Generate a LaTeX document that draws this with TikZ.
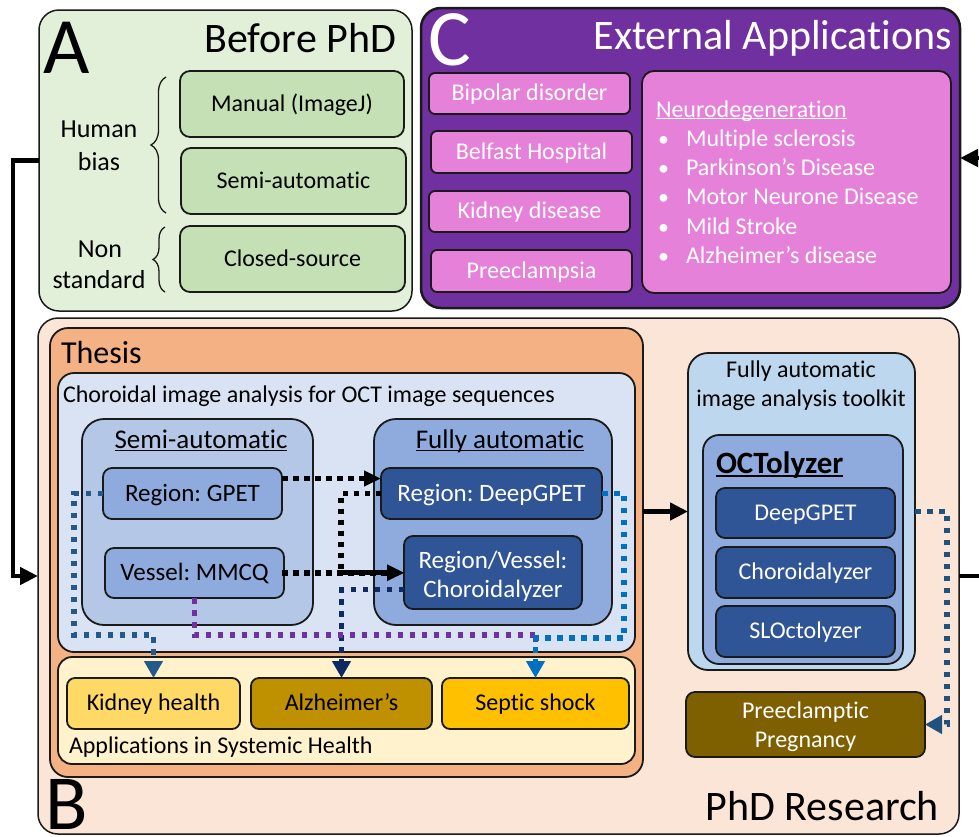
\documentclass[tikz,border=0pt]{standalone}
\usepackage{fontspec}
\setmainfont{Carlito}[Ligatures=NoCommon]
\frenchspacing
\usetikzlibrary{arrows.meta,decorations.pathreplacing}
\definecolor{agreen}{HTML}{E2F0D9}
\definecolor{agitem}{HTML}{C5E0B4}
\definecolor{cpurple}{HTML}{7030A0}
\definecolor{cpink}{HTML}{E581D9}
\definecolor{borange}{HTML}{FBE5D6}
\definecolor{thesisc}{HTML}{F4B183}
\definecolor{chorc}{HTML}{DAE3F3}
\definecolor{semic}{HTML}{B4C7E7}
\definecolor{fullc}{HTML}{8FAADC}
\definecolor{darkb}{HTML}{2F5597}
\definecolor{toolc}{HTML}{BDD7EE}
\definecolor{appc}{HTML}{FFF2CC}
\definecolor{kidc}{HTML}{FFD966}
\definecolor{alzc}{HTML}{BF9000}
\definecolor{sepc}{HTML}{FFC000}
\definecolor{pregc}{HTML}{7F6000}
\definecolor{edge}{HTML}{1A1A1A}
\definecolor{kidarr}{HTML}{24598A}
\definecolor{navyarr}{HTML}{0F2A62}
\definecolor{separr}{HTML}{0070C0}
\definecolor{pregarr}{HTML}{1F527F}
\definecolor{purparr}{HTML}{7030A0}
\newcommand\fsz[2]{\fontsize{#1}{#2}\selectfont}
\newlength\ulwd
\newcommand\ulx[3]{\settowidth\ulwd{#3}\rlap{\rule[-#1]{\ulwd}{#2}}#3}
\newcommand\bx[7]{\node[#6, minimum width={(#4-#2)*1pt}, minimum height={(#5-#3)*1pt}] (#1) at ({(#2+#4)/2},{(#3+#5)/2}) {#7};}
\begin{document}
\begin{tikzpicture}[x=1pt, y=-1pt,
  box/.style={draw=edge, line width=1.8pt, outer sep=0pt, inner sep=0pt, align=center},
  strutted/.style={execute at begin node={\rule[-0.26em]{0pt}{1.14em}}},
  outerbox/.style={box, line width=1.5pt, rounded corners=20pt},
  agbox/.style={box, strutted, fill=agitem, rounded corners=10pt, font=\fsz{24}{29}},
  cbox/.style={box, strutted, fill=cpink, rounded corners=6pt, text=white, font=\fsz{24}{29}},
  lbox/.style={box, strutted, fill=fullc, rounded corners=9pt, font=\fsz{25}{29}},
  dbox/.style={box, strutted, fill=darkb, rounded corners=9pt, text=white, font=\fsz{25}{29}},
  tbox/.style={box, strutted, fill=darkb, rounded corners=9pt, text=white, font=\fsz{24}{29}},
  ybox/.style={box, strutted, rounded corners=8pt, font=\fsz{24}{29}},
  txt/.style={inner sep=0pt, outer sep=0pt},
  blk/.style={draw=black, line width=4.5pt, -{Triangle[length=18pt,width=17pt]}},
  blkdot/.style={draw=black, line width=5.5pt, dash pattern=on 5.5pt off 5.5pt, -{Triangle[length=17pt,width=15pt]}},
  cdot/.style={line width=5.5pt, dash pattern=on 5.5pt off 6.5pt},
  carr/.style={cdot, -{Triangle[length=17pt,width=18pt]}},
  bracestyle/.style={draw=edge, line width=1.3pt, decorate}
]
\useasboundingbox (0,0) rectangle (979,836);
\fill[white] (0,0) rectangle (979,836);

% ---------------- A ----------------
\bx{A}{39}{10}{412}{311}{outerbox, fill=agreen}{}
\node[txt, anchor=base west, font=\fsz{80}{80}] (Alab) at (43,73) {A};
\node[txt, anchor=base east, font=\fsz{42}{42}] (Atitle) at (396,52) {Before PhD};
\bx{man}{180}{71}{404}{137}{agbox}{Manual (ImageJ)}
\bx{semiA}{181}{148}{406}{214}{agbox}{Semi-automatic}
\bx{closed}{180}{226}{405}{292}{agbox}{Closed-source}
\node[txt, anchor=base, font=\fsz{26}{33}] (hb1) at (99,137) {Human};
\node[txt, anchor=base, font=\fsz{26}{33}] (hb2) at (99,170) {bias};
\node[txt, anchor=base, font=\fsz{26}{33}] (ns1) at (100,257) {Non};
\node[txt, anchor=base, font=\fsz{26}{33}] (ns2) at (99,288) {standard};
\draw[bracestyle, decoration={brace, amplitude=15pt}] (166,213) -- (166,77);
\draw[bracestyle, decoration={brace, amplitude=12pt}] (165,292) -- (165,227);

% ---------------- C ----------------
\bx{C}{421}{8}{960}{308}{outerbox, line width=2.5pt, fill=cpurple}{}
\node[txt, anchor=base west, text=white, font=\fsz{80}{80}] (Clab) at (428,65) {C};
\node[txt, anchor=base east, text=white, font=\fsz{42}{42}] (Ctitle) at (952,49) {External Applications};
\bx{bip}{429}{73}{630}{114}{cbox}{Bipolar disorder}
\bx{bel}{431}{131}{632}{173}{cbox}{Belfast Hospital}
\bx{kdis}{429}{191}{630}{232}{cbox}{Kidney disease}
\bx{pre}{431}{250}{632}{292}{cbox}{Preeclampsia}
\bx{neuro}{642}{71}{951}{293}{cbox, rounded corners=12pt}{}
\node[txt, anchor=base west, text=white, font=\fsz{24}{29}] (nt) at (656,117) {\ulx{2.4pt}{1.3pt}{Neurodegeneration}};
\foreach \i/\t/\y in {1/Multiple sclerosis/146, 2/Parkinson’s Disease/175, 3/Motor Neurone Disease/204, 4/Mild Stroke/234, 5/Alzheimer’s disease/263}{
  \node[txt, anchor=base west, text=white, font=\fsz{22}{29}] (nb\i) at (658,\y) {•};
  \node[txt, anchor=base west, text=white, font=\fsz{24}{29}] (ni\i) at (686,\y) {\t};
}

% ---------------- B ----------------
\bx{B}{38}{318}{959}{834}{outerbox, fill=borange}{}
\node[txt, anchor=base west, font=\fsz{78}{78}] (Blab) at (45,829) {B};
\node[txt, anchor=base east, font=\fsz{42}{42}] (Btitle) at (939,820) {PhD Research};

\bx{thesis}{50}{328}{643}{777}{box, fill=thesisc, rounded corners=18pt}{}
\node[txt, anchor=base west, font=\fsz{32}{32}] (thl) at (61,363) {Thesis};
\bx{chor}{58}{373}{635}{652}{box, fill=chorc, rounded corners=16pt}{}
\node[txt, anchor=base west, font=\fsz{24}{29}] (chl) at (63,402) {Choroidal image analysis for OCT image sequences};
\bx{semi}{82}{419}{313}{625}{box, fill=semic, rounded corners=22pt}{}
\node[txt, anchor=base, font=\fsz{27}{29}] (sml) at (201,448) {\ulx{3pt}{1.5pt}{Semi-automatic}};
\bx{full}{374}{419}{612}{625}{box, fill=fullc, rounded corners=22pt}{}
\node[txt, anchor=base, font=\fsz{27}{29}] (fal) at (500,448) {\ulx{3pt}{1.5pt}{Fully automatic}};
\bx{gpet}{103}{468}{282}{519}{lbox}{Region: GPET}
\bx{mmcq}{105}{548}{284}{598}{lbox}{Vessel: MMCQ}
\bx{deep}{381}{468}{602}{519}{dbox}{Region: DeepGPET}
\bx{choz}{404}{536}{582}{609}{dbox}{\rule{0pt}{1.06em}Region/Vessel:\\Choroidalyzer}

\bx{app}{58}{657}{635}{764}{box, fill=appc, rounded corners=14pt}{}
\node[txt, anchor=base west, font=\fsz{24}{29}] (apl) at (69,753) {Applications in Systemic Health};
\bx{kid}{67}{678}{240}{729}{ybox, fill=kidc}{Kidney health}
\bx{alz}{251}{678}{432}{729}{ybox, fill=alzc}{Alzheimer’s}
\bx{sep}{442}{678}{629}{729}{ybox, fill=sepc}{Septic shock}

\bx{tool}{688}{353}{915}{670}{box, fill=toolc, rounded corners=20pt}{}
\node[txt, anchor=base, font=\fsz{24}{29}] (tl1) at (801,377) {Fully automatic};
\node[txt, anchor=base, font=\fsz{24}{29}] (tl2) at (801,406) {image analysis toolkit};
\bx{octo}{703}{435}{903}{664}{box, fill=fullc, rounded corners=16pt}{}
\node[txt, anchor=base west, font=\fsz{31}{31}\bfseries] (ocl) at (716,473) {\ulx{3.5pt}{2pt}{OCTolyzer}};
\bx{deep2}{716}{488}{895}{538}{tbox}{DeepGPET}
\bx{choz2}{716}{547}{895}{598}{tbox}{Choroidalyzer}
\bx{slo}{716}{606}{895}{657}{tbox}{SLOctolyzer}
\bx{preg}{686}{692}{925}{757}{tbox, fill=pregc}{\rule{0pt}{0.93em}Preeclamptic\\Pregnancy}

% ---------------- connectors ----------------
\draw[blk] (A.west) -- ++(-26,0) |- (B.west);
\draw[blk] (B.east) -- ++(35,0) |- (C.east);
\draw[blk] (tool.west -| thesis.east) -- (tool.west);
\draw[carr, draw=pregarr] (tool.east) -- ++(32,0) |- (preg.east);

\draw[blkdot] ([yshift=15pt]gpet.east) -- ([yshift=15pt]gpet.east -| deep.west);
\draw[blkdot] (deep.west) -- ++(-40,0) |- (choz.west);
\draw[blkdot] (mmcq.east -| gpet.east) -- (mmcq.east -| choz.west);

\draw[carr, draw=kidarr] (gpet.west) -- ++(-29,0) |- ([yshift=43pt]kid.north) -- (kid.north);
\draw[carr, draw=navyarr] ([yshift=-17pt]choz.west) -| (alz.north);
\draw[cdot, draw=purparr] (mmcq.south) |- ([yshift=43pt]sep.north) -- ([yshift=36pt]sep.north);
\draw[carr, draw=separr] (deep.east) -- ++(22,0) |- ([yshift=40pt]sep.north) -- (sep.north);
\end{tikzpicture}
\end{document}
